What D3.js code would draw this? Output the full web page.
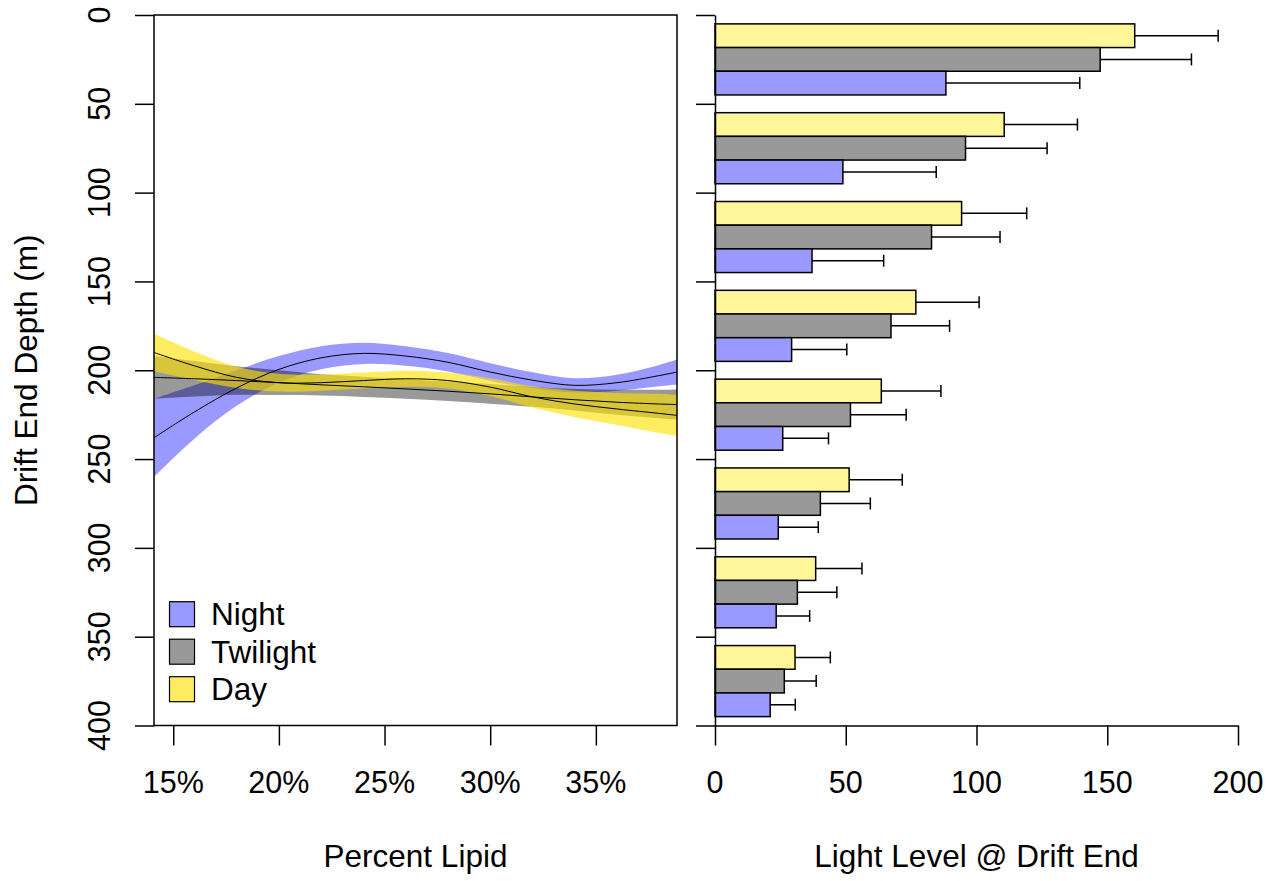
<!DOCTYPE html>
<html>
<head>
<meta charset="utf-8">
<script src="https://cdn.jsdelivr.net/npm/d3@7"></script>
<style>
  html, body { margin: 0; padding: 0; background: #fff; }
  svg { display: block; font-family: "Liberation Sans", Arial, sans-serif; }
</style>
</head>
<body>
<svg id="chart" width="1283" height="881"></svg>
<script>
// ---------------- DATA ----------------
// Left panel: smoothed fits of drift end depth vs percent lipid
const lipidPct   = [14.09, 16, 18, 20, 22, 24, 26, 28, 30, 32, 34, 36, 38, 38.84];
const nightFit   = [238, 223.5, 210, 199.5, 193, 190.5, 192, 195.5, 201, 205.6, 208.5, 207, 203, 201];
const nightSE    = [22, 15, 10, 7.5, 6.5, 6, 5.5, 5.2, 5, 4.5, 4, 4.5, 6, 7];
const twilightFit = [204, 204.8, 205.8, 207, 208.2, 209.3, 210.5, 211.8, 213.3, 215, 216.6, 218, 219, 219.3];
const twilightSE  = [12, 10, 8, 7, 6, 5.7, 5.5, 5.5, 5.5, 5.6, 6, 7, 8, 8.5];
const dayFit     = [190, 197.5, 204, 207, 207, 205.8, 204.8, 205.8, 209.5, 215, 219, 221.8, 224.3, 225.4];
const daySE      = [10.5, 8, 6, 5, 4.5, 4.5, 4.5, 4.5, 5, 6, 7.5, 9, 11, 11.5];

const lipidTicks = [15, 20, 25, 30, 35];
const depthTicks = [0, 50, 100, 150, 200, 250, 300, 350, 400];

// Right panel: light level at drift end, by depth bin (0-50, 50-100, ...)
const depthBins     = ["0-50", "50-100", "100-150", "150-200", "200-250", "250-300", "300-350", "350-400"];
const dayLight      = [160.5, 110.6, 94.3, 76.8, 63.6, 51.3, 38.5, 30.6];
const dayUpper      = [192.4, 138.6, 119.2, 101.0, 86.4, 71.6, 56.2, 44.1];
const twilightLight = [147.3, 95.8, 82.8, 67.3, 51.8, 40.3, 31.5, 26.5];
const twilightUpper = [182.2, 127.0, 109.0, 89.7, 73.1, 59.4, 46.6, 38.7];
const nightLight    = [88.3, 48.9, 37.1, 29.3, 25.9, 24.2, 23.4, 21.1];
const nightUpper    = [139.5, 84.6, 64.5, 50.4, 43.4, 39.5, 36.2, 30.7];
const lightTicks    = [0, 50, 100, 150, 200];

const periods = ["Day", "Twilight", "Night"];           // bar order top-to-bottom
const legendOrder = ["Night", "Twilight", "Day"];

// ---------------- STYLE ----------------
const bandColor = { Night: "rgba(0,0,255,0.4)", Twilight: "rgba(0,0,0,0.4)", Day: "rgba(255,226,0,0.62)" };
const barColor  = { Night: "#9999FF", Twilight: "#999999", Day: "#FFF599" };
const FS = 30.5;
const FT = 31.5;

const svg = d3.select("#chart");

// ---------------- LEFT PANEL ----------------
const L = { x0: 154, x1: 677, y0: 15, y1: 725.5 };
const xL = d3.scaleLinear().domain([lipidPct[0], lipidPct[lipidPct.length - 1]]).range([L.x0, L.x1]);
const yD = d3.scaleLinear().domain([0, 400]).range([L.y0, L.y1]);

svg.append("defs").append("clipPath").attr("id", "clipL")
  .append("rect").attr("x", L.x0).attr("y", L.y0).attr("width", L.x1 - L.x0).attr("height", L.y1 - L.y0);

const gL = svg.append("g").attr("clip-path", "url(#clipL)");

const series = [
  { name: "Night", fit: nightFit, se: nightSE },
  { name: "Twilight", fit: twilightFit, se: twilightSE },
  { name: "Day", fit: dayFit, se: daySE }
];

const area = d3.area().curve(d3.curveCatmullRom.alpha(0.5))
  .x(d => xL(d.x)).y0(d => yD(d.f - d.s)).y1(d => yD(d.f + d.s));
const line = d3.line().curve(d3.curveCatmullRom.alpha(0.5))
  .x(d => xL(d.x)).y(d => yD(d.f));

series.forEach(s => {
  const pts = lipidPct.map((x, i) => ({ x, f: s.fit[i], s: s.se[i] }));
  gL.append("path").datum(pts).attr("d", area).attr("fill", bandColor[s.name]).attr("stroke", "none");
});
series.forEach(s => {
  const pts = lipidPct.map((x, i) => ({ x, f: s.fit[i], s: s.se[i] }));
  gL.append("path").datum(pts).attr("d", line).attr("fill", "none").attr("stroke", "#000").attr("stroke-width", 1);
});

// box
svg.append("rect").attr("x", L.x0).attr("y", L.y0).attr("width", L.x1 - L.x0).attr("height", L.y1 - L.y0)
  .attr("fill", "none").attr("stroke", "#000").attr("stroke-width", 1.5);

// y axis left
const yAxL = svg.append("g").attr("transform", `translate(${L.x0},0)`)
  .call(d3.axisLeft(yD).tickValues(depthTicks).tickSize(19).tickFormat(""));
yAxL.select(".domain").remove();
yAxL.selectAll(".tick line").attr("stroke", "#000").attr("stroke-width", 1.5);
depthTicks.forEach(t => {
  svg.append("text").attr("transform", `translate(110,${yD(t)}) rotate(-90)`)
    .attr("text-anchor", "middle").attr("font-size", FS).attr("fill", "#000").text(t);
});

// x axis left
const xAxL = svg.append("g").attr("transform", `translate(0,${L.y1})`)
  .call(d3.axisBottom(xL).tickValues(lipidTicks).tickSize(20).tickFormat(""));
xAxL.select(".domain").remove();
xAxL.selectAll(".tick line").attr("stroke", "#000").attr("stroke-width", 1.5);
lipidTicks.forEach(t => {
  svg.append("text").attr("x", xL(t)).attr("y", 793).attr("text-anchor", "middle")
    .attr("font-size", FS).attr("fill", "#000").text(t + "%");
});

svg.append("text").attr("x", (L.x0 + L.x1) / 2).attr("y", 867).attr("text-anchor", "middle")
  .attr("font-size", FT).attr("fill", "#000").text("Percent Lipid");
svg.append("text").attr("transform", `translate(37,${(L.y0 + L.y1) / 2}) rotate(-90)`)
  .attr("text-anchor", "middle").attr("font-size", FT).attr("fill", "#000").text("Drift End Depth (m)");

// legend
legendOrder.forEach((n, i) => {
  const y = 601.7 + i * 37.5;
  svg.append("rect").attr("x", 169.5).attr("y", y).attr("width", 25).attr("height", 25)
    .attr("fill", bandColor[n]).attr("stroke", "#000").attr("stroke-width", 1.2);
  svg.append("text").attr("x", 211).attr("y", y + 23.5).attr("font-size", FT).attr("fill", "#000").text(n);
});

// ---------------- RIGHT PANEL ----------------
const R = { x0: 715, x1: 1238 };
const xR = d3.scaleLinear().domain([0, 200]).range([R.x0, R.x1]);
const yG = d3.scaleBand().domain(depthBins).range([yD(0), yD(400)]).paddingInner(0.2).paddingOuter(0.1);
const yP = d3.scaleBand().domain(periods).range([0, yG.bandwidth()]);

const vals = { Day: dayLight, Twilight: twilightLight, Night: nightLight };
const upp  = { Day: dayUpper, Twilight: twilightUpper, Night: nightUpper };

const barData = [];
depthBins.forEach((b, i) => periods.forEach(p => barData.push({ bin: b, p, v: vals[p][i], u: upp[p][i] })));

const gR = svg.append("g");
// error bars
gR.selectAll(".err").data(barData).enter().append("line")
  .attr("x1", d => xR(d.v)).attr("x2", d => xR(d.u))
  .attr("y1", d => yG(d.bin) + yP(d.p) + yP.bandwidth() / 2)
  .attr("y2", d => yG(d.bin) + yP(d.p) + yP.bandwidth() / 2)
  .attr("stroke", "#000").attr("stroke-width", 1.5);
gR.selectAll(".cap").data(barData).enter().append("line")
  .attr("x1", d => xR(d.u)).attr("x2", d => xR(d.u))
  .attr("y1", d => yG(d.bin) + yP(d.p) + yP.bandwidth() / 2 - 6)
  .attr("y2", d => yG(d.bin) + yP(d.p) + yP.bandwidth() / 2 + 6)
  .attr("stroke", "#000").attr("stroke-width", 1.5);
// bars
gR.selectAll(".bar").data(barData).enter().append("rect")
  .attr("x", xR(0)).attr("y", d => yG(d.bin) + yP(d.p))
  .attr("width", d => xR(d.v) - xR(0)).attr("height", yP.bandwidth())
  .attr("fill", d => barColor[d.p]).attr("stroke", "#000").attr("stroke-width", 1.5);

// y axis right (no labels)
const yAxR = svg.append("g").attr("transform", `translate(${R.x0},0)`)
  .call(d3.axisLeft(yD).tickValues(depthTicks).tickSize(19).tickSizeOuter(0).tickFormat(""));
yAxR.select(".domain").attr("stroke", "#000").attr("stroke-width", 1.5);
yAxR.selectAll(".tick line").attr("stroke", "#000").attr("stroke-width", 1.5);

// x axis right
const xAxR = svg.append("g").attr("transform", `translate(0,${L.y1})`)
  .call(d3.axisBottom(xR).tickValues(lightTicks).tickSize(20).tickSizeOuter(0).tickFormat(""));
xAxR.select(".domain").attr("stroke", "#000").attr("stroke-width", 1.5);
xAxR.selectAll(".tick line").attr("stroke", "#000").attr("stroke-width", 1.5);
lightTicks.forEach(t => {
  svg.append("text").attr("x", xR(t)).attr("y", 793).attr("text-anchor", "middle")
    .attr("font-size", FS).attr("fill", "#000").text(t);
});
svg.append("text").attr("x", (R.x0 + R.x1) / 2).attr("y", 867).attr("text-anchor", "middle")
  .attr("font-size", FT).attr("fill", "#000").text("Light Level @ Drift End");
</script>
</body>
</html>
